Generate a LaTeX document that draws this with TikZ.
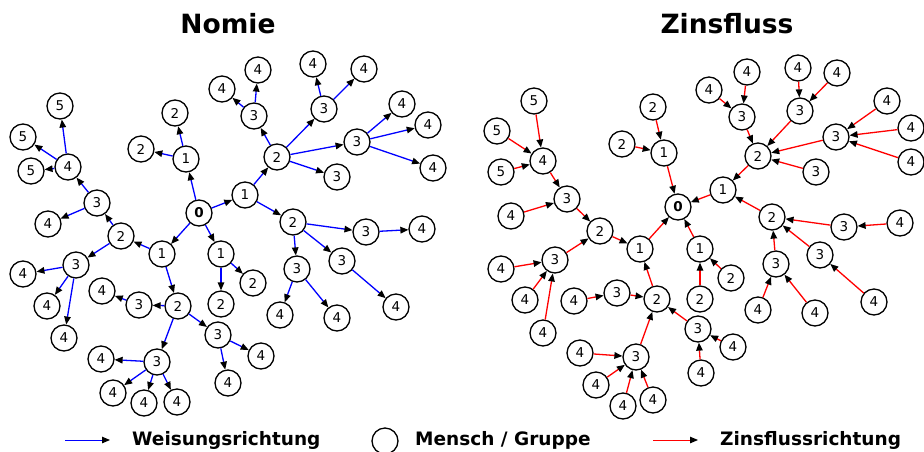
\documentclass[tikz,border=0pt]{standalone}
\usepackage{fontspec}
\setmainfont{DejaVu Sans}
\usetikzlibrary{arrows.meta}
\tikzset{
  nd/.style={circle,draw=black,line width=1.3pt,minimum size=26pt,inner sep=0pt,fill=white,font=\fontsize{13.5}{16}\selectfont},
  tip/.style={-{Triangle[length=8pt,width=6.5pt,black]}},
  blarr/.style={tip,draw={rgb,255:red,0;green,0;blue,255},line width=1.3pt},
  rdarr/.style={tip,draw={rgb,255:red,255;green,0;blue,0},line width=1.3pt},
  ttl/.style={font=\fontsize{26.5}{30}\selectfont\bfseries,inner sep=0pt,anchor=base},
  lgd/.style={font=\fontsize{18.5}{22}\selectfont\bfseries,inner sep=0pt,anchor=base west}
}
\begin{document}
\begin{tikzpicture}[x=1pt,y=-1pt]
\useasboundingbox (0,0) rectangle (924,451);
\clip (0,0) rectangle (924,451);
% titles
\node[ttl] (t1) at (228,33) {Nomie};
\node[ttl] (t2) at (727,33) {Zinsfluss};
% ---------------- left tree ----------------
\node[nd,font=\fontsize{13.5}{16}\selectfont\bfseries] (L0) at (199,213) {0};
\node[nd] (L1a) at (186,159) {1};
\node[nd] (L1b) at (245,195) {1};
\node[nd] (L1c) at (221,254) {1};
\node[nd] (L1d) at (162,254) {1};
\node[nd] (L2a1) at (175,113) {2};
\node[nd] (L2a2) at (141,149) {2};
\node[nd] (L2c) at (277,157) {2};
\node[nd] (L2d) at (293,222) {2};
\node[nd] (L2g) at (253,283) {2};
\node[nd] (L2h) at (221,304) {2};
\node[nd] (L2e) at (121,236) {2};
\node[nd] (L2f) at (178,306) {2};
\node[nd] (L3c1) at (254,116) {3};
\node[nd] (L3c2) at (324,109) {3};
\node[nd] (L3c3) at (357,142) {3};
\node[nd] (L3c4) at (337,177) {3};
\node[nd] (L4c1a) at (222,89) {4};
\node[nd] (L4c1b) at (258,70) {4};
\node[nd] (L4c2a) at (313,64) {4};
\node[nd] (L4c2b) at (364,69) {4};
\node[nd] (L4c3a) at (402,104) {4};
\node[nd] (L4c3b) at (428,125) {4};
\node[nd] (L4c3c) at (433,168) {4};
\node[nd] (L3d1) at (366,232) {3};
\node[nd] (L4d1) at (422,229) {4};
\node[nd] (L3d2) at (342,261) {3};
\node[nd] (L4d2) at (396,307) {4};
\node[nd] (L3d3) at (297,269) {3};
\node[nd] (L4d3a) at (280,315) {4};
\node[nd] (L4d3b) at (337,318) {4};
\node[nd] (L3e1) at (97,203) {3};
\node[nd] (L4e1a) at (68,167) {4};
\node[nd] (L5a) at (60,106) {5};
\node[nd] (L5b) at (23,137) {5};
\node[nd] (L5c) at (31,171) {5};
\node[nd] (L4e1b) at (48,224) {4};
\node[nd] (L3e2) at (76,265) {3};
\node[nd] (L4e2a) at (23,274) {4};
\node[nd] (L4e2b) at (47,306) {4};
\node[nd] (L4e2c) at (64,338) {4};
\node[nd] (L3f1) at (139,305) {3};
\node[nd] (L4f1) at (102,291) {4};
\node[nd] (L3f2) at (157,362) {3};
\node[nd] (L4f2a) at (101,359) {4};
\node[nd] (L4f2b) at (113,393) {4};
\node[nd] (L4f2c) at (144,403) {4};
\node[nd] (L4f2d) at (177,402) {4};
\node[nd] (L3f3) at (218,335) {3};
\node[nd] (L4f3a) at (261,356) {4};
\node[nd] (L4f3b) at (228,383) {4};
\foreach \a/\b in {L0/L1a,L0/L1b,L0/L1c,L0/L1d,L1a/L2a1,L1a/L2a2,L1b/L2c,L1b/L2d,
  L1c/L2g,L1c/L2h,L1d/L2e,L1d/L2f,
  L2c/L3c1,L2c/L3c2,L2c/L3c3,L2c/L3c4,L3c1/L4c1a,L3c1/L4c1b,L3c2/L4c2a,L3c2/L4c2b,
  L3c3/L4c3a,L3c3/L4c3b,L3c3/L4c3c,
  L2d/L3d1,L2d/L3d2,L2d/L3d3,L3d1/L4d1,L3d2/L4d2,L3d3/L4d3a,L3d3/L4d3b,
  L2e/L3e1,L2e/L3e2,L3e1/L4e1a,L3e1/L4e1b,L4e1a/L5a,L4e1a/L5b,L4e1a/L5c,
  L3e2/L4e2a,L3e2/L4e2b,L3e2/L4e2c,
  L2f/L3f1,L2f/L3f2,L2f/L3f3,L3f1/L4f1,L3f2/L4f2a,L3f2/L4f2b,L3f2/L4f2c,L3f2/L4f2d,
  L3f3/L4f3a,L3f3/L4f3b}
  \draw[blarr] (\a) -- (\b);
% ---------------- right tree ----------------
\node[nd,font=\fontsize{13.5}{16}\selectfont\bfseries] (R0) at (678,207) {0};
\node[nd] (R1a) at (664,153) {1};
\node[nd] (R1b) at (723,190) {1};
\node[nd] (R1c) at (700,249) {1};
\node[nd] (R1d) at (640,249) {1};
\node[nd] (R2a1) at (653,107) {2};
\node[nd] (R2a2) at (622,144) {2};
\node[nd] (R2c) at (758,156) {2};
\node[nd] (R2d) at (772,217) {2};
\node[nd] (R2g) at (731,278) {2};
\node[nd] (R2h) at (700,299) {2};
\node[nd] (R2e) at (600,231) {2};
\node[nd] (R2f) at (657,299) {2};
\node[nd] (R3c1) at (742,117) {3};
\node[nd] (R4c1a) at (709,90) {4};
\node[nd] (R4c1b) at (747,72) {4};
\node[nd] (R3c2) at (800,111) {3};
\node[nd] (R4c2a) at (798,68) {4};
\node[nd] (R4c2b) at (837,73) {4};
\node[nd] (R3c3) at (836,137) {3};
\node[nd] (R4c3a) at (887,101) {4};
\node[nd] (R4c3b) at (911,128) {4};
\node[nd] (R4c3c) at (911,162) {4};
\node[nd] (R3c4) at (816,172) {3};
\node[nd] (R3d1) at (844,227) {3};
\node[nd] (R4d1) at (900,223) {4};
\node[nd] (R3d2) at (820,255) {3};
\node[nd] (R4d2) at (874,302) {4};
\node[nd] (R3d3) at (776,264) {3};
\node[nd] (R4d3a) at (758,310) {4};
\node[nd] (R4d3b) at (815,313) {4};
\node[nd] (R3e1) at (567,199) {3};
\node[nd] (R4e1a) at (543,161) {4};
\node[nd] (R5a) at (534,101) {5};
\node[nd] (R5b) at (497,131) {5};
\node[nd] (R5c) at (501,172) {5};
\node[nd] (R4e1b) at (511,216) {4};
\node[nd] (R3e2) at (555,260) {3};
\node[nd] (R4e2a) at (501,269) {4};
\node[nd] (R4e2b) at (525,300) {4};
\node[nd] (R4e2c) at (543,333) {4};
\node[nd] (R3f1) at (617,293) {3};
\node[nd] (R4f1) at (574,301) {4};
\node[nd] (R3f2) at (636,357) {3};
\node[nd] (R4f2a) at (580,353) {4};
\node[nd] (R4f2b) at (596,385) {4};
\node[nd] (R4f2c) at (623,406) {4};
\node[nd] (R4f2d) at (653,400) {4};
\node[nd] (R3f3) at (698,329) {3};
\node[nd] (R4f3a) at (733,347) {4};
\node[nd] (R4f3b) at (701,373) {4};
\foreach \a/\b in {R0/R1a,R0/R1b,R0/R1c,R0/R1d,R1a/R2a1,R1a/R2a2,R1b/R2c,R1b/R2d,
  R1c/R2g,R1c/R2h,R1d/R2e,R1d/R2f,
  R2c/R3c1,R2c/R3c2,R2c/R3c3,R2c/R3c4,R3c1/R4c1a,R3c1/R4c1b,R3c2/R4c2a,R3c2/R4c2b,
  R3c3/R4c3a,R3c3/R4c3b,R3c3/R4c3c,
  R2d/R3d1,R2d/R3d2,R2d/R3d3,R3d1/R4d1,R3d2/R4d2,R3d3/R4d3a,R3d3/R4d3b,
  R2e/R3e1,R2e/R3e2,R3e1/R4e1a,R3e1/R4e1b,R4e1a/R5a,R4e1a/R5b,R4e1a/R5c,
  R3e2/R4e2a,R3e2/R4e2b,R3e2/R4e2c,
  R2f/R3f1,R2f/R3f2,R2f/R3f3,R3f1/R4f1,R3f2/R4f2a,R3f2/R4f2b,R3f2/R4f2c,R3f2/R4f2d,
  R3f3/R4f3a,R3f3/R4f3b}
  \draw[rdarr] (\b) -- (\a);
% ---------------- legend ----------------
\coordinate (la1) at (65,440);
\coordinate (la2) at (110,440);
\draw[tip,draw={rgb,255:red,0;green,0;blue,255},line width=1pt] (la1) -- (la2);
\node[lgd] (lt1) at (132,445) {Weisungsrichtung};
\node[nd] (lc) at (385,441) {};
\node[lgd] (lt2) at (415,445) {Mensch / Gruppe};
\coordinate (lb1) at (653,440);
\coordinate (lb2) at (698,440);
\draw[tip,draw={rgb,255:red,255;green,0;blue,0},line width=1pt] (lb1) -- (lb2);
\node[lgd] (lt3) at (720,445) {Zinsflussrichtung};
\end{tikzpicture}
\end{document}
